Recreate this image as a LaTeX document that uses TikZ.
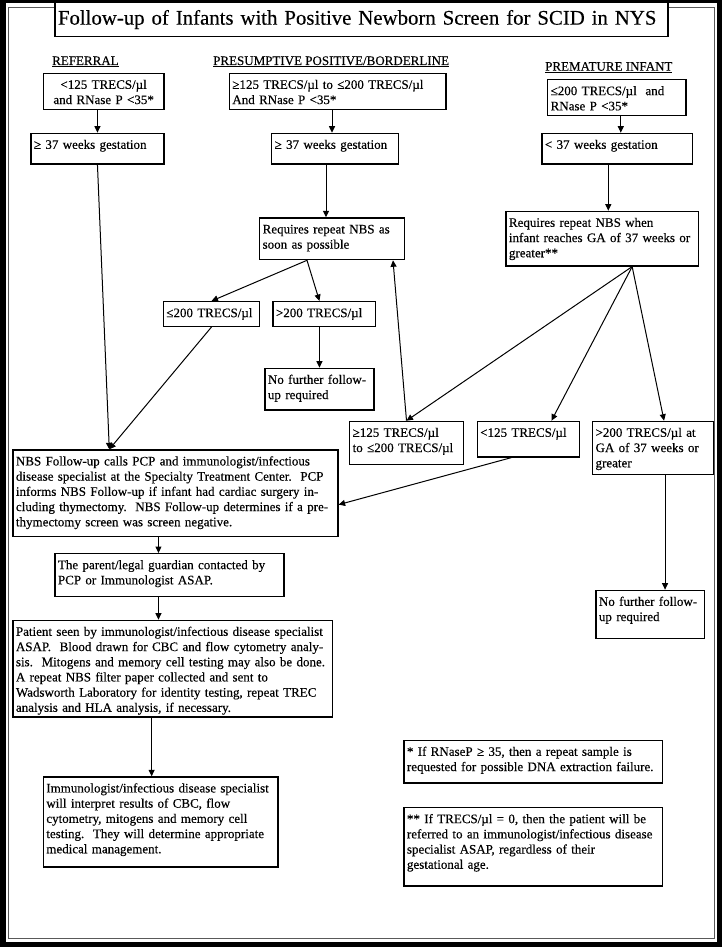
\documentclass[tikz,border=0pt]{standalone}
\usepackage{fontspec}
\setmainfont{Liberation Serif}[FakeBold=0.3]
\usetikzlibrary{arrows.meta,positioning}

\newcommand\boxfont{\fontsize{13}{15.2}\selectfont}
\newcommand\titlefont{\fontsize{20.8}{24}\selectfont}

\begin{document}
\begin{tikzpicture}[
    x=1pt, y=-1pt,
    font=\boxfont,
    >={Triangle[length=6.5pt,width=6pt]},
    % common styles
    box/.style 2 args={draw, line width=1.3pt, anchor=north west, align=left,
        inner xsep=3pt, inner ysep=0pt, text height=15.5pt,
        text width=#1, text depth=#2},
    head/.style={anchor=base west, inner sep=0pt},
    line/.style={draw, ->, line width=1pt}
]
    \useasboundingbox (0,0) rectangle (722,947);

    % --- frame ---
    \fill[black] (0,0) rectangle (722,947);
    \fill[white] (6,3) rectangle (717,942);
    \draw[gray!70!black, line width=1pt] (8,8) rectangle (714.5,938.5);

    % --- title ---
    \node[box={607pt}{12pt}, text height=22pt, fill=white, font=\titlefont] (title) at (54.3,2)
        {Follow-up of Infants with Positive Newborn Screen for SCID in NYS};

    % --- column heads ---
    \node[head] (refhead) at (52,65) {\underline{REFERRAL}};
    \node[head] (presthead) at (213,65) {\underline{PRESUMPTIVE POSITIVE/BORDERLINE}};
    \node[head] (premhead) at (545,70.7) {\underline{PREMATURE INFANT}};

    % --- referral column ---
    \node[box={114.6pt}{20.8pt}, align=center] (a1) at (42.7,72.7) {<125 TRECS/µl\\and RNase P <35*};
    \node[box={127pt}{15.1pt}] (a2) at (30.3,132.7) {≥ 37 weeks gestation};

    % --- presumptive column ---
    \node[box={210.6pt}{20.8pt}] (b1) at (228.7,72.7) {≥125 TRECS/µl to ≤200 TRECS/µl\\And RNase P <35*};
    \node[box={120.7pt}{15.1pt}] (b2) at (271,132.7) {≥ 37 weeks gestation};
    \node[box={138.7pt}{26.2pt}] (b3) at (259,217.3) {Requires repeat NBS as\\soon as possible};
    \node[box={90.3pt}{9.2pt}] (b4a) at (162.7,301) {≤200 TRECS/µl};
    \node[box={96.7pt}{9.2pt}, right=12pt of b4a] (b4b) {>200 TRECS/µl};
    \node[box={103pt}{26.1pt}] (b5) at (264.3,367.7) {No further follow-\\up required};

    % --- premature column ---
    \node[box={132.3pt}{20.5pt}] (c1) at (547,79) {≤200 TRECS/µl\ \ and\\RNase P <35*};
    \node[box={144.7pt}{15.1pt}] (c2) at (541.3,132.7) {< 37 weeks gestation};
    \node[box={186.4pt}{39.1pt}] (c3) at (505.3,210.7) {Requires repeat NBS when\\infant reaches GA of 37 weeks or\\greater**};

    % --- repeat results ---
    \node[box={107.7pt}{27.8pt}] (d1) at (349,420.7) {≥125 TRECS/µl\\to ≤200 TRECS/µl};
    \node[box={96.4pt}{20.1pt}, right=12.6pt of d1.north east, anchor=north west] (d2) {<125 TRECS/µl};
    \node[box={115pt}{37.5pt}, right=11.6pt of d2.north east, anchor=north west] (d3) {>200 TRECS/µl at\\GA of 37 weeks or\\greater};
    \node[box={102.4pt}{32.8pt}] (c4) at (595.3,589.7) {No further follow-\\up required};

    % --- follow-up chain ---
    \node[box={319pt}{70.9pt}] (e1) at (12.3,449.3)
        {NBS Follow-up calls PCP and immunologist/infectious\\
         disease specialist at the Specialty Treatment Center.\ \ PCP\\
         informs NBS Follow-up if infant had cardiac surgery in-\\
         cluding thymectomy.\ \ NBS Follow-up determines if a pre-\\
         thymectomy screen was screen negative.};
    \node[box={223pt}{27.2pt}] (e2) at (54.3,553)
        {The parent/legal guardian contacted by\\PCP or Immunologist ASAP.};
    \node[box={313.4pt}{81.1pt}] (e3) at (12.3,619.7)
        {Patient seen by immunologist/infectious disease specialist\\
         ASAP.\ \ Blood drawn for CBC and flow cytometry analy-\\
         sis.\ \ Mitogens and memory cell testing may also be done.\\
         A repeat NBS filter paper collected and sent to\\
         Wadsworth Laboratory for identity testing, repeat TREC\\
         analysis and HLA analysis, if necessary.};
    \node[box={228.6pt}{74.5pt}] (e4) at (42.7,776.3)
        {Immunologist/infectious disease specialist\\
         will interpret results of CBC, flow\\
         cytometry, mitogens and memory cell\\
         testing.\ \ They will determine appropriate\\
         medical management.};

    % --- footnotes ---
    \node[box={252.7pt}{27.1pt}] (f1) at (403.3,739.7)
        {* If RNaseP ≥ 35, then a repeat sample is\\requested for possible DNA extraction failure.};
    \node[box={252.7pt}{62.8pt}, below=23.4pt of f1.south west, anchor=north west] (f2)
        {** If TRECS/µl = 0, then the patient will be\\
         referred to an immunologist/infectious disease\\
         specialist ASAP, regardless of their\\
         gestational age.};

    % --- connectors ---
    \coordinate (join) at ([xshift=97pt]e1.north west);
    \coordinate (split) at ([xshift=-25pt]b3.south);
    \coordinate (fan) at ([xshift=30pt]c3.south);

    \draw[line] (a1.south -| a2.north) -- (a2.north);
    \draw[line] (a2.south) -- (join);

    \draw[line] ([xshift=-3pt]b2.north |- b1.south) -- ([xshift=-3pt]b2.north);
    \draw[line] ([xshift=-9pt]b2.south) -- ([xshift=-9pt]b2.south |- b3.north);
    \draw[line] (split) -- (b4a.north);
    \draw[line] (split) -- (b4b.north -| b5.north);
    \draw[line] (b4b.south -| b5.north) -- (b5.north);
    \draw[line] (b4a.south) -- (join);

    \draw[line] ([xshift=4pt]c1.south) -- ([xshift=4pt]c1.south |- c2.north);
    \draw[line] ([xshift=-9pt]c2.south) -- ([xshift=-9pt]c2.south |- c3.north);
    \draw[line] (fan) -- (d1.north);
    \draw[line] (fan) -- ([xshift=23pt]d2.north);
    \draw[line] (fan) -- ([xshift=11pt]d3.north);
    \draw[line] (d1.north) -- ([xshift=-12pt]b3.south east);
    \draw[line] ([xshift=-17pt]d2.south) -- ([yshift=-11.5pt]e1.east);
    \draw[line] ([xshift=12pt]d3.south) -- ([xshift=12pt]d3.south |- c4.north);

    \draw[line] ([xshift=-11pt]e2.north |- e1.south) -- ([xshift=-11pt]e2.north);
    \draw[line] ([xshift=-11pt]e2.south) -- ([xshift=-11pt]e2.south |- e3.north);
    \draw[line] ([xshift=-9pt]e4.north |- e3.south) -- ([xshift=-9pt]e4.north);

\end{tikzpicture}
\end{document}
